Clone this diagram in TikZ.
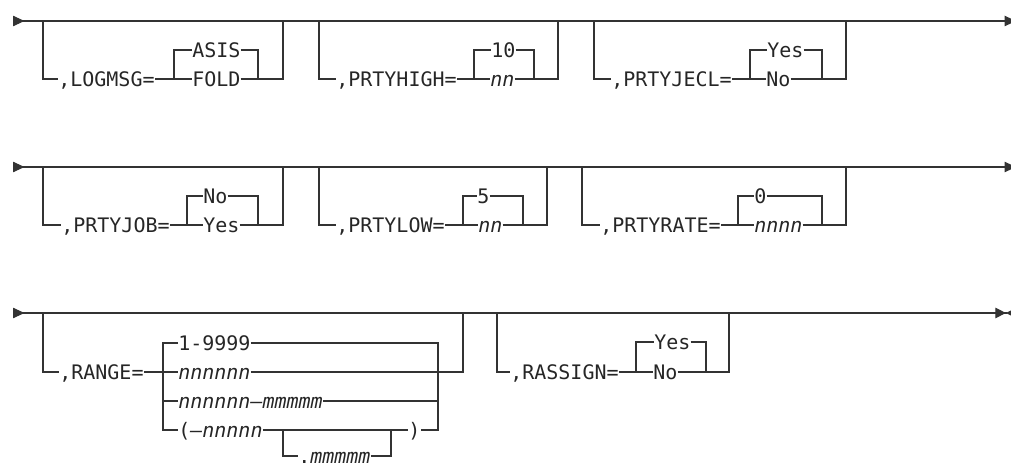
\documentclass[tikz,border=0pt]{standalone}
\usepackage{fontspec}
\setmainfont{DejaVu Sans Mono}
\usetikzlibrary{arrows.meta}

\begin{document}
\begin{tikzpicture}[x=0.75pt, y=-0.75pt,
    rail/.style={draw=black!80, line width=0.8pt},
    lbl/.style={anchor=west, inner xsep=0pt, inner ysep=0pt, text height=10.9pt, text depth=0pt, text=black!85, font=\fontsize{15}{18}\selectfont},
    var/.style={lbl, font=\fontsize{15}{18}\selectfont\itshape},
    railrow/.style={rail, {Triangle[reversed, length=8.6pt, width=7.8pt]}-{Triangle[length=8.6pt, width=7.8pt]}},
    railend/.style={rail, {Triangle[reversed, length=8.6pt, width=7.8pt]}-{Triangle[length=8pt, width=7.8pt, sep=0pt] Triangle[reversed, length=6pt, width=6pt, sep=0pt]}}]

    \useasboundingbox (0,0) rectangle (1011,466);

    \coordinate (s1) at (13,21);
    \coordinate (t1) at (1016,21);
    \draw[railrow] (s1) -- (t1);

    \coordinate (s2) at (13,167);
    \coordinate (t2) at (1016,167);
    \draw[railrow] (s2) -- (t2);

    \coordinate (s3) at (13,313);
    \coordinate (t3) at (1014,313);
    \draw[railend] (s3) -- (t3);

    \coordinate (lmA) at (43,21);
    \coordinate (lmB) at (283,21);
    \coordinate (lmL) at (174,79);
    \coordinate (lmR) at (258,79);
    \node[lbl] (lm) at (58,79) {,LOGMSG=};
    \node[lbl] (lm1) at (192,50) {ASIS};
    \node[lbl] (lm2) at (192,79) {FOLD};
    \draw[rail] (lmA) |- (lm.west);
    \draw[rail] (lm.east) -- (lm2.west);
    \draw[rail] (lmL) |- (lm1.west);
    \draw[rail] (lm1.east) -| (lmR);
    \draw[rail] (lm2.east) -| (lmB);

    \coordinate (phA) at (319,21);
    \coordinate (phB) at (558,21);
    \coordinate (phL) at (474,79);
    \coordinate (phR) at (534,79);
    \node[lbl] (ph) at (336,79) {,PRTYHIGH=};
    \node[lbl] (ph1) at (491,50) {10};
    \node[var] (ph2) at (490,79) {nn};
    \draw[rail] (phA) |- (ph.west);
    \draw[rail] (ph.east) -- (ph2.west);
    \draw[rail] (phL) |- (ph1.west);
    \draw[rail] (ph1.east) -| (phR);
    \draw[rail] (ph2.east) -| (phB);

    \coordinate (pjA) at (594,21);
    \coordinate (pjB) at (846,21);
    \coordinate (pjL) at (750,79);
    \coordinate (pjR) at (822,79);
    \node[lbl] (pj) at (611,79) {,PRTYJECL=};
    \node[lbl] (pj1) at (767,50) {Yes};
    \node[lbl] (pj2) at (766,79) {No};
    \draw[rail] (pjA) |- (pj.west);
    \draw[rail] (pj.east) -- (pj2.west);
    \draw[rail] (pjL) |- (pj1.west);
    \draw[rail] (pj1.east) -| (pjR);
    \draw[rail] (pj2.east) -| (pjB);

    \coordinate (jbA) at (43,167);
    \coordinate (jbB) at (283,167);
    \coordinate (jbL) at (187,225);
    \coordinate (jbR) at (258,225);
    \node[lbl] (jb) at (61,225) {,PRTYJOB=};
    \node[lbl] (jb1) at (203,196) {No};
    \node[lbl] (jb2) at (203,225) {Yes};
    \draw[rail] (jbA) |- (jb.west);
    \draw[rail] (jb.east) -- (jb2.west);
    \draw[rail] (jbL) |- (jb1.west);
    \draw[rail] (jb1.east) -| (jbR);
    \draw[rail] (jb2.east) -| (jbB);

    \coordinate (plA) at (319,167);
    \coordinate (plB) at (547,167);
    \coordinate (plL) at (463,225);
    \coordinate (plR) at (523,225);
    \node[lbl] (pl) at (336,225) {,PRTYLOW=};
    \node[lbl] (pl1) at (477,196) {5};
    \node[var] (pl2) at (478,225) {nn};
    \draw[rail] (plA) |- (pl.west);
    \draw[rail] (pl.east) -- (pl2.west);
    \draw[rail] (plL) |- (pl1.west);
    \draw[rail] (pl1.east) -| (plR);
    \draw[rail] (pl2.east) -| (plB);

    \coordinate (prA) at (582,167);
    \coordinate (prB) at (846,167);
    \coordinate (prL) at (738,225);
    \coordinate (prR) at (822,225);
    \node[lbl] (pr) at (600,225) {,PRTYRATE=};
    \node[lbl] (pr1) at (754,196) {0};
    \node[var] (pr2) at (754,225) {nnnn};
    \draw[rail] (prA) |- (pr.west);
    \draw[rail] (pr.east) -- (pr2.west);
    \draw[rail] (prL) |- (pr1.west);
    \draw[rail] (pr1.east) -| (prR);
    \draw[rail] (pr2.east) -| (prB);

    \coordinate (rgA) at (43,313);
    \coordinate (rgB) at (463,313);
    \coordinate (rgL) at (163,343);
    \coordinate (rgR) at (438,343);
    \coordinate (rgS) at (283,430);
    \coordinate (rgT) at (391,430);
    \node[lbl] (rg) at (59,372) {,RANGE=};
    \node[lbl] (rg1) at (178,343) {1-9999};
    \node[var] (rg2) at (178,372) {nnnnnn};
    \node[var] (rg3) at (178,401) {nnnnnn--mmmmm};
    \node[lbl] (rg4) at (178,430) {(\textit{--nnnnn}};
    \node[lbl] (rg5) at (408,430) {)};
    \node[lbl] (rg6) at (298,456) {.\textit{mmmmm}};
    \draw[rail] (rgA) |- (rg.west);
    \draw[rail] (rg.east) -- (rg2.west);
    \draw[rail] (rg1.west) -| (rg4.west -| rgL) -- (rg4.west);
    \draw[rail] (rg3.west) -- (rg3.west -| rgL);
    \draw[rail] (rg1.east) -| (rg5.east -| rgR) -- (rg5.east);
    \draw[rail] (rg2.east) -| (rgB);
    \draw[rail] (rg3.east) -- (rg3.east -| rgR);
    \draw[rail] (rg4.east) -- (rg5.west);
    \draw[rail] (rgS) |- (rg6.west);
    \draw[rail] (rg6.east) -| (rgT);

    \coordinate (raA) at (497,313);
    \coordinate (raB) at (729,313);
    \coordinate (raL) at (636,372);
    \coordinate (raR) at (706,372);
    \node[lbl] (ra) at (510,372) {,RASSIGN=};
    \node[lbl] (ra1) at (654,342) {Yes};
    \node[lbl] (ra2) at (653,372) {No};
    \draw[rail] (raA) |- (ra.west);
    \draw[rail] (ra.east) -- (ra2.west);
    \draw[rail] (raL) |- (ra1.west);
    \draw[rail] (ra1.east) -| (raR);
    \draw[rail] (ra2.east) -| (raB);
\end{tikzpicture}
\end{document}
